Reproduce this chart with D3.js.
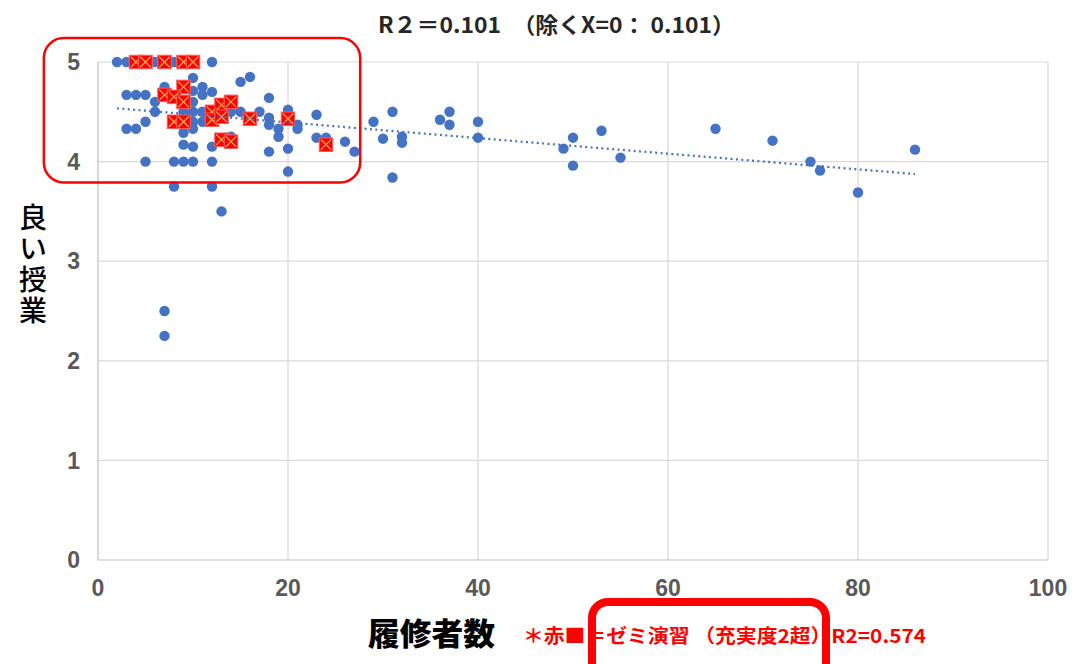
<!DOCTYPE html>
<html><head><meta charset="utf-8">
<script src="https://cdn.jsdelivr.net/npm/d3@7"></script>
<style>body{margin:0;background:#fff}svg{display:block}</style>
</head><body>
<svg id="c" width="1075" height="664"></svg>
<script>
// ---- data ----
const blueX = [2,3,6,8,12, 10,7,11,10,15,16, 3,4,5,11,12, 6,10, 6,9,10,11,14,15,17,20,23, 18, 5,10,11,12, 3,4,10,9, 18,18,19,19,21,21, 9,10,12,14,14, 18,20, 5,8,9,10,12, 8,12,13,20, 7,7, 23,24,26,27, 29,31,30,32,32,31, 36,37,37,40,40, 49,50,50,53,55, 65,71,75,76,80,86];
const blueY = [5,5,5,5,5, 4.84,4.75,4.75,4.71,4.8,4.85, 4.67,4.67,4.67,4.67,4.7, 4.6,4.6, 4.5,4.5,4.5,4.5,4.5,4.5,4.5,4.52,4.47, 4.64, 4.4,4.4,4.4,4.4, 4.33,4.33,4.33,4.29, 4.44,4.37,4.33,4.25,4.37,4.33, 4.17,4.15,4.15,4.25,4.2, 4.1,4.13, 4,4,4,4,4, 3.75,3.75,3.5,3.9, 2.5,2.25, 4.24,4.24,4.2,4.1, 4.4,4.5,4.23,4.25,4.19,3.84, 4.42,4.5,4.37,4.4,4.24, 4.13,4.24,3.96,4.31,4.04, 4.33,4.21,4.0,3.91,3.69,4.12];
const redX = [4,5,7,9,10, 9,7,8,9,8,9, 12,13,14,12,13, 13,14,16,20,24];
const redY = [5,5,5,5,5, 4.75,4.67,4.65,4.6,4.4,4.4, 4.5,4.57,4.6,4.42,4.45, 4.22,4.2,4.43,4.43,4.17];
const trendX = [2, 86];
const trendY = [4.535, 3.875];
const xTicks = [0,20,40,60,80,100];
const yTicks = [0,1,2,3,4,5];
const titleText = "R２＝0.101　（除くX=0：  0.101）";
const yTitle = "良い授業";
const xTitle = "履修者数";
const noteText = "＊赤■＝ゼミ演習 （充実度2超）R2=0.574";
// annotation box (data units)
const boxX = [-5.7, 27.6];
const boxY = [3.79, 5.24];

// ---- layout ----
const svg = d3.select("#c");
const L = 98, R = 1048, T = 62, B = 560;
const x = d3.scaleLinear().domain([0,100]).range([L,R]);
const y = d3.scaleLinear().domain([0,5]).range([B,T]);
const grid = "#d9d9d9";

// gridlines
svg.append("g").selectAll("line").data(yTicks.filter(d=>d>0)).join("line")
  .attr("x1",L).attr("x2",R).attr("y1",d=>y(d)).attr("y2",d=>y(d))
  .attr("stroke",grid).attr("stroke-width",1.2);
svg.append("g").selectAll("line").data(xTicks.filter(d=>d>0)).join("line")
  .attr("y1",T).attr("y2",B).attr("x1",d=>x(d)).attr("x2",d=>x(d))
  .attr("stroke",grid).attr("stroke-width",1.2);
// axis lines
svg.append("line").attr("x1",L).attr("x2",L).attr("y1",T).attr("y2",B).attr("stroke","#bfbfbf").attr("stroke-width",1.2);
svg.append("line").attr("x1",L).attr("x2",R).attr("y1",B).attr("y2",B).attr("stroke","#bfbfbf").attr("stroke-width",1.2);

// tick labels
const tickFont = "'Liberation Sans', Arial, sans-serif";
svg.append("g").selectAll("text").data(yTicks).join("text")
  .attr("x",L-18).attr("y",d=>y(d)).attr("dy","0.36em")
  .attr("text-anchor","end").attr("font-family",tickFont).attr("font-weight","bold")
  .attr("font-size",23).attr("fill","#595959").text(d=>d);
svg.append("g").selectAll("text").data(xTicks).join("text")
  .attr("x",d=>x(d)).attr("y",B+28).attr("dy","0.36em")
  .attr("text-anchor","middle").attr("font-family",tickFont).attr("font-weight","bold")
  .attr("font-size",23).attr("fill","#595959").text(d=>d);

// blue points
svg.append("g").selectAll("circle").data(blueX.map((d,i)=>[d,blueY[i]])).join("circle")
  .attr("cx",d=>x(d[0])).attr("cy",d=>y(d[1])).attr("r",5.2).attr("fill","#4472c4");

// red squares
const s = 13.5;
const rg = svg.append("g").selectAll("g").data(redX.map((d,i)=>[d,redY[i]])).join("g")
  .attr("transform",d=>`translate(${x(d[0])},${y(d[1])})`);
rg.append("rect").attr("x",-s/2).attr("y",-s/2).attr("width",s).attr("height",s)
  .attr("fill","#ff0000").attr("stroke","#ff6060").attr("stroke-width",1);
rg.append("path").attr("d",`M${-s/2+1.5},${-s/2+1.5}L${s/2-1.5},${s/2-1.5}M${s/2-1.5},${-s/2+1.5}L${-s/2+1.5},${s/2-1.5}`)
  .attr("stroke","#f6b04a").attr("stroke-width",1.2).attr("fill","none");

// trendline
svg.append("path").datum(trendX.map((d,i)=>[d,trendY[i]]))
  .attr("d",d3.line().x(d=>x(d[0])).y(d=>y(d[1])))
  .attr("stroke","#4472c4").attr("stroke-width",2.2).attr("stroke-dasharray","2 3.4")
  .attr("fill","none");

// title
const cjk = "'Noto Sans CJK JP', 'Noto Sans', sans-serif";
svg.append("text").attr("x",378).attr("y",33).attr("font-family",cjk).attr("font-weight","bold")
  .attr("font-size",22).attr("fill","#262626").attr("textLength",357).attr("lengthAdjust","spacingAndGlyphs")
  .text(titleText);

// y title (vertical writing)
svg.append("text").attr("x",33).attr("y",203)
  .style("writing-mode","vertical-rl")
  .attr("font-family",cjk).attr("font-weight","500")
  .attr("font-size",28).attr("letter-spacing",3).attr("fill","#000").text(yTitle);

// x title
svg.append("text").attr("x",368).attr("y",645).attr("font-family",cjk).attr("font-weight","900")
  .attr("font-size",31).attr("fill","#000").attr("textLength",127).attr("lengthAdjust","spacingAndGlyphs")
  .text(xTitle);

// footnote
svg.append("text").attr("x",523).attr("y",643).attr("font-family",cjk).attr("font-weight","bold")
  .attr("font-size",19).attr("fill","#ff0000").attr("textLength",403).attr("lengthAdjust","spacingAndGlyphs")
  .text(noteText);

// annotation boxes
svg.append("rect").attr("x",x(boxX[0])).attr("y",y(boxY[1]))
  .attr("width",x(boxX[1])-x(boxX[0])).attr("height",y(boxY[0])-y(boxY[1]))
  .attr("rx",20).attr("fill","none").attr("stroke","#ff0000").attr("stroke-width",2.5);
svg.append("rect").attr("x",592).attr("y",602).attr("width",234).attr("height",90)
  .attr("rx",16).attr("fill","none").attr("stroke","#ff0000").attr("stroke-width",8);
</script>
</body></html>
